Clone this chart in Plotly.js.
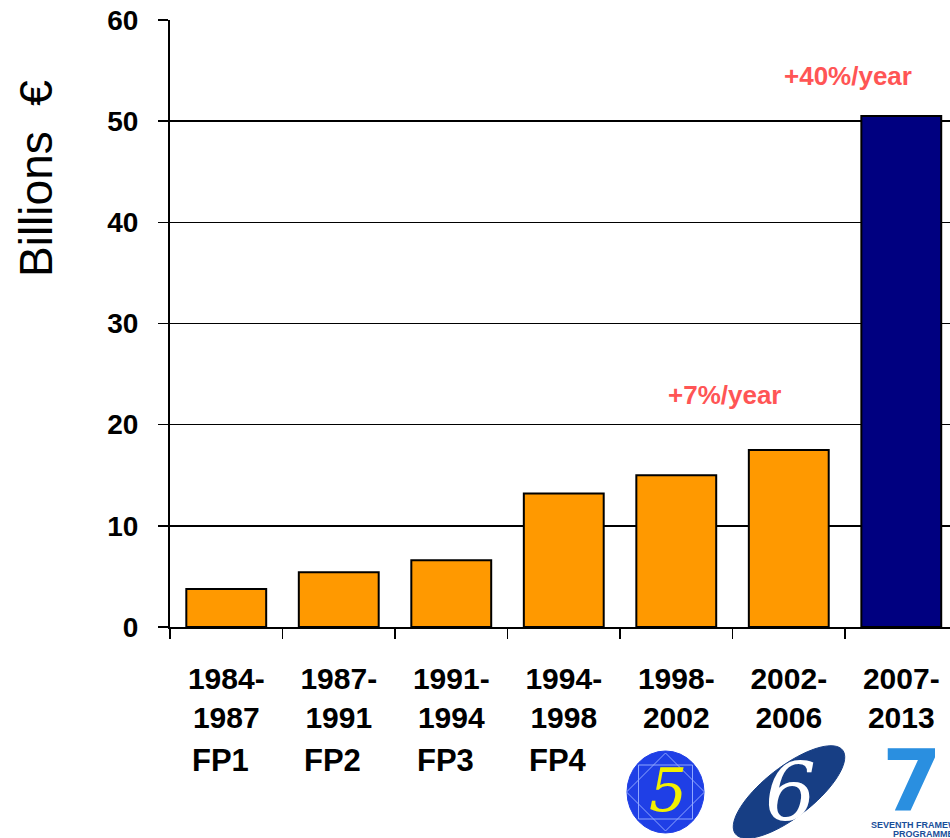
<!DOCTYPE html>
<html>
<head>
<meta charset="utf-8">
<script src="https://cdn.plot.ly/plotly-3.0.1.min.js"></script>
<style>html,body{margin:0;padding:0;background:#fff;}</style>
</head>
<body>
<div id="chart" style="width:950px;height:838px;"></div>
<script>
const periods = ["1984-<br>1987","1987-<br>1991","1991-<br>1994","1994-<br>1998","1998-<br>2002","2002-<br>2006","2007-<br>2013"];
const budgets = [3.75, 5.4, 6.6, 13.2, 15.0, 17.5, 50.5];
const programmes = ["FP1","FP2","FP3","FP4","FP5","FP6","FP7"];
const barColors = ["#ff9900","#ff9900","#ff9900","#ff9900","#ff9900","#ff9900","#000080"];
const growthLabels = ["+7%/year","+40%/year"];

const W = 950, H = 838, L = 170, T = 20, B = 211, R = 0;
const pw = W - L - R, ph = H - T - B;
const px = x => (x - L) / pw;
const py = y => (H - B - y) / ph;

function ellipsePath(cx, cy, a, b, angDeg) {
  const t = angDeg * Math.PI / 180;
  let d = "";
  for (let i = 0; i <= 72; i++) {
    const u = i / 72 * 2 * Math.PI;
    const ex = a * Math.cos(u), ey = b * Math.sin(u);
    const X = cx + ex * Math.cos(t) - ey * Math.sin(t);
    const Y = cy + ex * Math.sin(t) + ey * Math.cos(t);
    d += (i === 0 ? "M" : "L") + px(X).toFixed(5) + "," + py(Y).toFixed(5);
  }
  return d + "Z";
}

const trace = {
  type: "bar",
  x: programmes,
  y: budgets,
  width: 0.71,
  marker: { color: barColors, line: { color: "#000", width: 2 } },
  hoverinfo: "skip"
};

const font = "Liberation Sans, Arial, sans-serif";

function note(xp, yp, text, f, extra) {
  return Object.assign({ x: px(xp), xref: "paper", y: py(yp), yref: "paper", text: text, showarrow: false,
    xanchor: "center", yanchor: "middle", font: f }, extra || {});
}

const annotations = [];
for (let i = 0; i < 4; i++) {
  annotations.push({ x: programmes[i], xref: "x", y: py(760), yref: "paper", text: programmes[i], showarrow: false,
    font: { family: font, size: 31, color: "#000", weight: "bold" }, xanchor: "center", yanchor: "middle", xshift: -6 });
}
annotations.push(note(724, 395, growthLabels[0], { family: font, size: 26, color: "#ff5555", weight: "bold" }));
annotations.push(note(848, 76, growthLabels[1], { family: font, size: 26, color: "#ff5555", weight: "bold" }));
annotations.push(note(36, 179, "Billions  €", { family: font, size: 46, color: "#000" }, { textangle: -90 }));
// logo approximations
annotations.push(note(668, 790, "<i>5</i>", { family: "DejaVu Serif, serif", size: 60, color: "#f2f000" }));
annotations.push(note(790, 792, "<i>6</i>", { family: "DejaVu Serif, serif", size: 80, color: "#ffffff" }));
annotations.push(note(912, 781, "<b>7</b>", { family: "DejaVu Sans, sans-serif", size: 86, color: "#2a8fe0" }));
annotations.push(note(869, 825, "<b>SEVENTH FRAMEWORK</b>", { family: font, size: 9, color: "#1a4f9a" }, { xanchor: "left" }));
annotations.push(note(891, 834, "<b>PROGRAMME</b>", { family: font, size: 9, color: "#1a4f9a" }, { xanchor: "left" }));

const shapes = [
  { type: "circle", xref: "paper", yref: "paper", x0: px(627), x1: px(704), y0: py(751), y1: py(833),
    fillcolor: "#1f3fe6", line: { color: "#1f3fe6", width: 1 }, layer: "below" },
  { type: "path", xref: "paper", yref: "paper", path: ellipsePath(789, 792, 68, 25, -38),
    fillcolor: "#173e84", line: { color: "#173e84", width: 1 }, layer: "below" }
];
const c5x = 665.5, c5y = 792, r5 = 39;
shapes.push({ type: "path", xref: "paper", yref: "paper",
  path: "M" + px(c5x) + "," + py(c5y - r5) + "L" + px(c5x + r5) + "," + py(c5y) + "L" + px(c5x) + "," + py(c5y + r5) + "L" + px(c5x - r5) + "," + py(c5y) + "Z",
  line: { color: "#8fa6ff", width: 1 }, layer: "below" });
shapes.push({ type: "rect", xref: "paper", yref: "paper", x0: px(c5x - 27), x1: px(c5x + 27), y0: py(c5y - 27), y1: py(c5y + 27),
  line: { color: "#8fa6ff", width: 1 }, layer: "below" });

const layout = {
  width: W, height: H,
  margin: { l: L, r: R, t: T, b: B, pad: 0 },
  paper_bgcolor: "#fff", plot_bgcolor: "#fff",
  showlegend: false,
  xaxis: {
    type: "category",
    range: [-0.5, 6.433],
    tickmode: "array", tickvals: programmes, ticktext: periods,
    tickson: "boundaries", ticks: "outside", ticklen: 10, tickwidth: 1.5, tickcolor: "#000",
    showline: true, linecolor: "#000", linewidth: 2,
    showgrid: false, zeroline: false,
    tickfont: { family: font, size: 30, color: "#000", weight: "bold" },
    ticklabelstandoff: 24,
    fixedrange: true
  },
  yaxis: {
    range: [0, 60],
    tickvals: [0, 10, 20, 30, 40, 50, 60],
    ticks: "outside", ticklen: 10, tickwidth: 1.5, tickcolor: "#000",
    showline: true, linecolor: "#000", linewidth: 2,
    showgrid: true, gridcolor: "#000", gridwidth: 1.5,
    zeroline: false,
    tickfont: { family: font, size: 28, color: "#000", weight: "bold" },
    ticklabelstandoff: 14,
    fixedrange: true
  },
  annotations: annotations,
  shapes: shapes
};

Plotly.newPlot("chart", [trace], layout, { displayModeBar: false, staticPlot: true });
</script>
</body>
</html>
